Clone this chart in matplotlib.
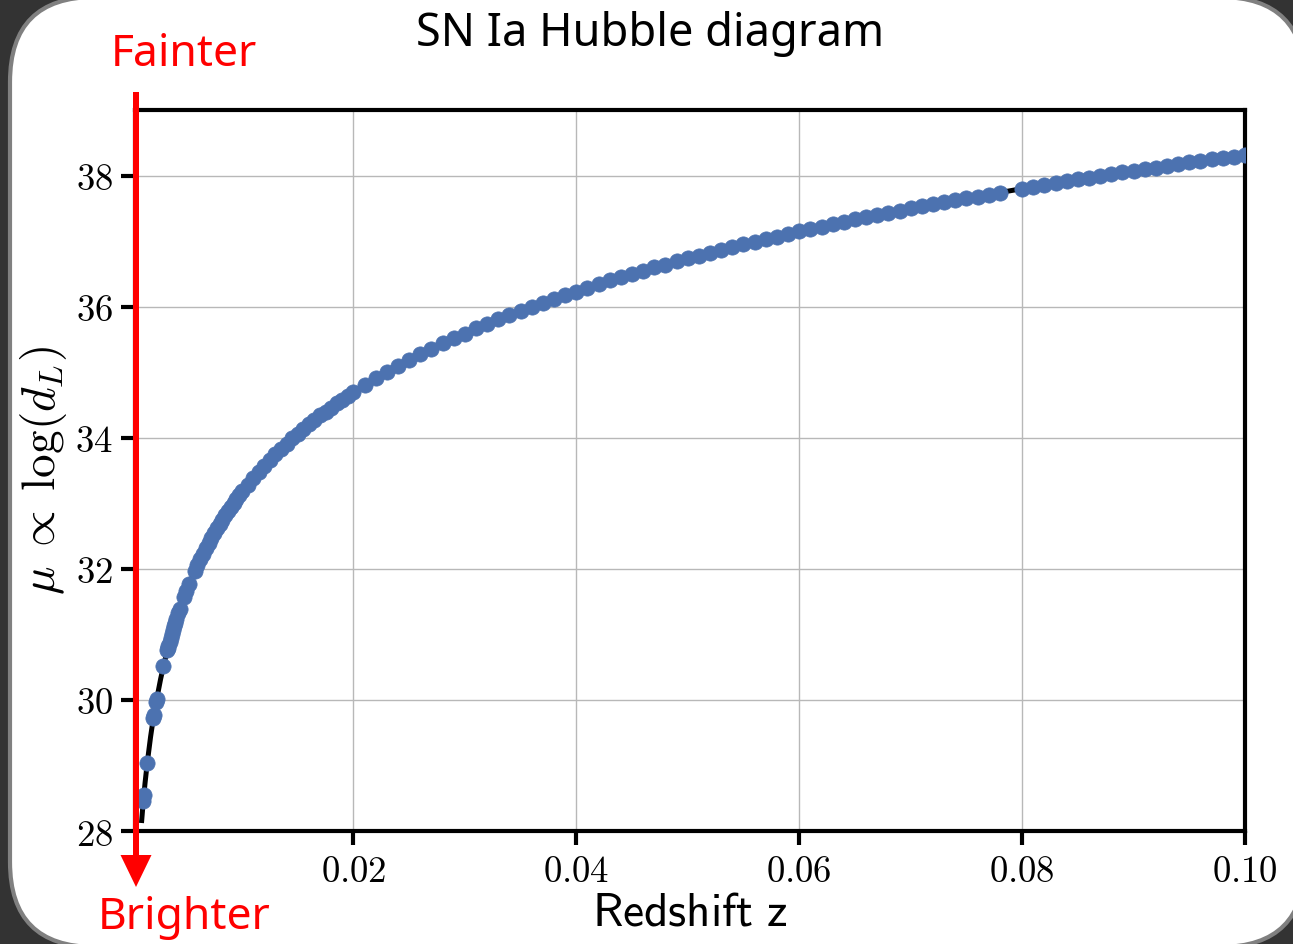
import matplotlib
matplotlib.use('Agg')
import matplotlib.pyplot as plt
from matplotlib.patches import FancyBboxPatch, FancyArrow
from matplotlib.ticker import FuncFormatter

plt.rcParams['mathtext.fontset'] = 'cm'

# model curve (black line)
z_line = [0.0010, 0.0011, 0.0012, 0.0013, 0.0015, 0.0018, 0.0020, 0.0023, 0.0027,
          0.0030, 0.0035, 0.0040, 0.0045, 0.0050, 0.0060, 0.0070, 0.0080, 0.0090,
          0.010, 0.012, 0.014, 0.016, 0.018, 0.020, 0.025, 0.030, 0.040, 0.050,
          0.060, 0.070, 0.080, 0.090, 0.100]
mu_line = [28.16, 28.37, 28.55, 28.73, 29.04, 29.44, 29.67, 29.97, 30.32,
           30.55, 30.88, 31.18, 31.43, 31.66, 32.06, 32.40, 32.69, 32.94,
           33.18, 33.57, 33.91, 34.21, 34.46, 34.70, 35.19, 35.59, 36.23, 36.74,
           37.15, 37.50, 37.80, 38.07, 38.32]

# supernovae (blue dots)
z_sn = [0.00115, 0.0012, 0.0015, 0.00205, 0.0021, 0.0023, 0.00235, 0.00295,
        0.0033, 0.00335, 0.0034, 0.0035, 0.0036, 0.0037, 0.0038, 0.0039, 0.0040,
        0.0041, 0.0043, 0.0044, 0.0048,
        0.0050, 0.00525, 0.00575, 0.0060, 0.00625, 0.0065, 0.00675, 0.0070,
        0.00725, 0.0075, 0.00775, 0.0080, 0.00825, 0.0085, 0.00875, 0.0090,
        0.00925, 0.0095, 0.00975, 0.0100,
        0.0105, 0.0110, 0.0115, 0.0120, 0.0125, 0.0130, 0.0135, 0.0140, 0.0145,
        0.0150, 0.0155, 0.0160, 0.0165, 0.0170, 0.0175, 0.0180, 0.0185, 0.0190,
        0.0195, 0.0200,
        0.021, 0.022, 0.023, 0.024, 0.025, 0.026, 0.027, 0.028, 0.029, 0.030,
        0.031, 0.032, 0.033, 0.034, 0.035, 0.036, 0.037, 0.038, 0.039, 0.040,
        0.041, 0.042, 0.043, 0.044, 0.045, 0.046, 0.047, 0.048, 0.049, 0.050,
        0.051, 0.052, 0.053, 0.054, 0.055, 0.056, 0.057, 0.058, 0.059, 0.060,
        0.061, 0.062, 0.063, 0.064, 0.065, 0.066, 0.067, 0.068, 0.069, 0.070,
        0.071, 0.072, 0.073, 0.074, 0.075, 0.076, 0.077, 0.078, 0.080,
        0.081, 0.082, 0.083, 0.084, 0.085, 0.086, 0.087, 0.088, 0.089, 0.090,
        0.091, 0.092, 0.093, 0.094, 0.095, 0.096, 0.097, 0.098, 0.099, 0.100]
mu_sn = [28.46, 28.55, 29.04, 29.72, 29.77, 29.97, 30.02, 30.51,
         30.76, 30.79, 30.82, 30.88, 30.95, 31.00, 31.06, 31.12, 31.18,
         31.23, 31.33, 31.38, 31.57,
         31.66, 31.77, 31.97, 32.06, 32.15, 32.23, 32.32, 32.40,
         32.47, 32.55, 32.62, 32.69, 32.75, 32.82, 32.88, 32.94,
         33.00, 33.06, 33.12, 33.18,
         33.28, 33.38, 33.48, 33.57, 33.66, 33.75, 33.83, 33.91, 33.99,
         34.06, 34.14, 34.21, 34.27, 34.34, 34.40, 34.46, 34.53, 34.58,
         34.64, 34.70,
         34.80, 34.91, 35.01, 35.10, 35.19, 35.28, 35.36, 35.44, 35.52, 35.59,
         35.67, 35.74, 35.81, 35.87, 35.94, 36.00, 36.06, 36.12, 36.18, 36.23,
         36.29, 36.34, 36.40, 36.45, 36.50, 36.55, 36.60, 36.64, 36.69, 36.74,
         36.78, 36.82, 36.87, 36.91, 36.95, 36.99, 37.03, 37.07, 37.11, 37.15,
         37.19, 37.22, 37.26, 37.29, 37.33, 37.36, 37.40, 37.43, 37.46, 37.50,
         37.53, 37.56, 37.59, 37.62, 37.65, 37.68, 37.71, 37.74, 37.80,
         37.83, 37.86, 37.89, 37.91, 37.94, 37.97, 37.99, 38.02, 38.05, 38.07,
         38.10, 38.12, 38.15, 38.17, 38.20, 38.22, 38.25, 38.27, 38.29, 38.32]

x_ticks = [0.02, 0.04, 0.06, 0.08, 0.10]
y_ticks = [28, 30, 32, 34, 36, 38]

W, H = 1293, 944
fig = plt.figure(figsize=(W / 100, H / 100), dpi=100, facecolor='#333333')

# slide background
bg = fig.add_axes([0, 0, 1, 1], zorder=-10)
bg.set_xlim(0, W)
bg.set_ylim(H, 0)
bg.axis('off')
bg.add_patch(FancyBboxPatch((10, -3), 1295, 950, boxstyle='round,pad=0,rounding_size=85',
                            fc='white', ec='#808080', lw=3))

ax = fig.add_axes([135 / W, (H - 831) / H, (1245 - 135) / W, (831 - 110) / H])
ax.plot(z_line, mu_line, color='black', lw=3.6, zorder=2)
ax.plot(z_sn, mu_sn, 'o', color='#4c72b0', ms=11, mec='#4c72b0', mew=0.5, zorder=3)

ax.set_xlim(0.0004, 0.10)
ax.set_ylim(28, 39)
ax.set_xticks(x_ticks)
ax.set_yticks(y_ticks)
ax.xaxis.set_major_formatter(FuncFormatter(lambda v, p: f'${v:.2f}$'))
ax.yaxis.set_major_formatter(FuncFormatter(lambda v, p: f'${v:.0f}$'))
ax.tick_params(direction='out', length=10, width=3, labelsize=26.5, pad=6,
               top=False, right=False)
ax.grid(True, color='#b8b8b8', lw=1)
for s in ax.spines.values():
    s.set_linewidth(3)
    s.set_color('black')

ax.set_xlabel(r'$\mathsf{Redshift\ z}$', fontsize=34, labelpad=0)
ax.set_ylabel(r'$\mu \;\propto\; \log(d_L)$', fontsize=34, labelpad=4)

# overlay: title, arrow, labels
top = fig.add_axes([0, 0, 1, 1], zorder=10)
top.set_xlim(0, W)
top.set_ylim(H, 0)
top.axis('off')
top.patch.set_alpha(0)
top.text(650, 34, 'SN Ia Hubble diagram', ha='center', va='center',
         fontsize=32.5, family=['Noto Sans', 'DejaVu Sans'])
top.add_patch(FancyArrow(136, 92, 0, 795, width=6, head_width=31, head_length=32,
                         length_includes_head=True, color='red', lw=0))
top.text(184, 55, 'Fainter', ha='center', va='center', color='red',
         fontsize=32, family=['Noto Sans', 'DejaVu Sans'])
top.text(184, 918, 'Brighter', ha='center', va='center', color='red',
         fontsize=32, family=['Noto Sans', 'DejaVu Sans'])

fig.savefig('out.png', dpi=100, facecolor=fig.get_facecolor())
